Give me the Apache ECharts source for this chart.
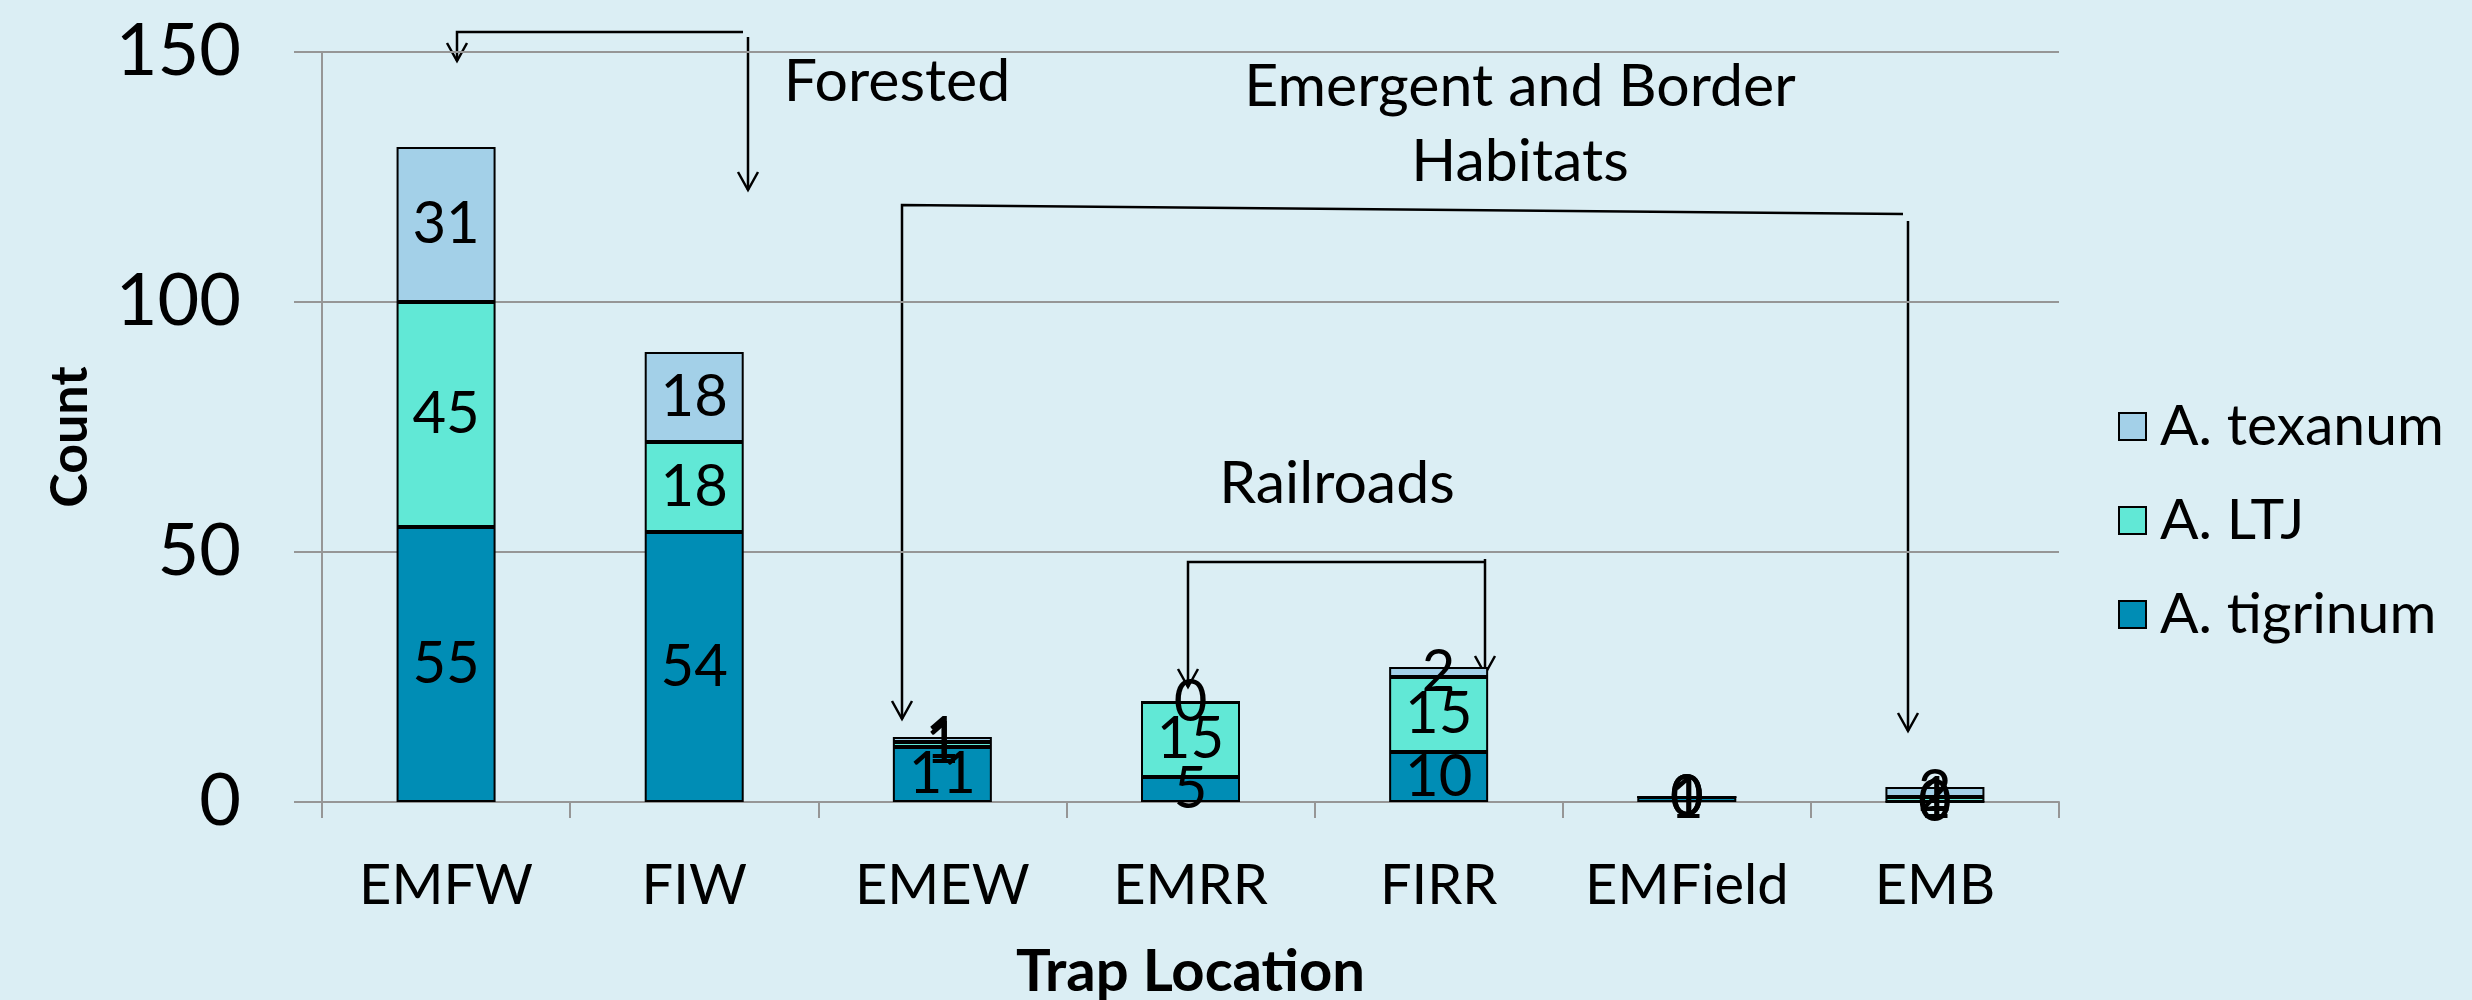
<!DOCTYPE html>
<html>
<head>
<meta charset="utf-8">
<script src="https://cdn.jsdelivr.net/npm/echarts@6/dist/echarts.min.js"></script>
<style>
html,body{margin:0;padding:0;background:#DBEEF4;}
#chart{width:2472px;height:1000px;}
</style>
</head>
<body>
<div id="chart"></div>
<script>
const categories = ['EMFW', 'FIW', 'EMEW', 'EMRR', 'FIRR', 'EMField', 'EMB'];
const tigrinum = [55, 54, 11, 5, 10, 1, 0];
const ltj = [45, 18, 1, 15, 15, 0, 1];
const texanum = [31, 18, 1, 0, 2, 0, 2];
const yTicks = [0, 50, 100, 150];

const FONT = 'Lato, "Open Sans", sans-serif';
const chart = echarts.init(document.getElementById('chart'), null, {renderer: 'canvas'});

function seriesOf(name, data, color) {
  return {
    name: name, type: 'bar', stack: 'total', data: data, barWidth: 99,
    itemStyle: {color: color, borderColor: '#000', borderWidth: 2},
    label: {show: true, position: 'inside', color: '#000', fontFamily: FONT, fontSize: 58},
    emphasis: {disabled: true}
  };
}

function arrowPath(pts) {
  const last = pts[pts.length - 1];
  return [
    {type: 'polyline', shape: {points: pts}, style: {stroke: '#000', lineWidth: 2.5, fill: null}, silent: true},
    {type: 'polyline', shape: {points: [[last[0] - 10, last[1] - 18], [last[0], last[1]], [last[0] + 10, last[1] - 18]]},
     style: {stroke: '#000', lineWidth: 2.5, fill: null}, silent: true}
  ];
}

function txt(text, x, y) {
  return {type: 'text', x: x, y: y, silent: true,
    style: {text: text, fill: '#000', font: '59px ' + FONT, textAlign: 'center', textVerticalAlign: 'middle'}};
}

const graphics = [].concat(
  arrowPath([[743, 32], [457, 32], [457, 61]]),
  arrowPath([[748, 37], [748, 190]]),
  arrowPath([[1903, 214], [902, 205], [902, 719]]),
  arrowPath([[1908, 221], [1908, 731]]),
  arrowPath([[1485, 562], [1188, 562], [1188, 687]]),
  arrowPath([[1485, 559], [1485, 674]]),
  [txt('Forested', 897, 82), txt('Emergent and Border', 1520, 87), txt('Habitats', 1520, 162), txt('Railroads', 1337, 484)]
);

chart.setOption({
  backgroundColor: '#DBEEF4',
  animation: false,
  grid: {left: 322, right: 413, top: 52, bottom: 198, containLabel: false, outerBoundsMode: 'none'},
  legend: {
    orient: 'vertical', left: 2113, top: 393,
    data: ['A. texanum', 'A. LTJ', 'A. tigrinum'],
    icon: 'rect', itemWidth: 27, itemHeight: 27, itemGap: 37,
    textStyle: {color: '#000', fontFamily: FONT, fontSize: 57, lineHeight: 56, padding: [0, 0, 0, 9]},
    selectedMode: false
  },
  xAxis: {
    type: 'category', data: categories,
    name: 'Trap Location', nameLocation: 'middle', nameGap: 141,
    nameTextStyle: {color: '#000', fontFamily: FONT, fontSize: 58, fontWeight: 'bold'},
    axisLine: {show: true, lineStyle: {color: '#969696', width: 2}},
    axisTick: {show: true, length: 16, lineStyle: {color: '#969696', width: 2}},
    axisLabel: {color: '#000', fontFamily: FONT, fontSize: 56, margin: 56, interval: 0}
  },
  yAxis: {
    type: 'value', min: 0, max: 150, interval: 50,
    name: 'Count', nameLocation: 'middle', nameGap: 226, nameRotate: 90,
    nameTextStyle: {color: '#000', fontFamily: FONT, fontSize: 52, fontWeight: 'bold', padding: [0, 20, 0, 0]},
    axisLine: {show: true, lineStyle: {color: '#969696', width: 2}},
    axisTick: {show: true, length: 28, lineStyle: {color: '#969696', width: 2}},
    axisLabel: {color: '#000', fontFamily: FONT, fontSize: 72, margin: 81,
      formatter: function (v) { return yTicks.indexOf(v) >= 0 ? String(v) : ''; }},
    splitLine: {show: true, lineStyle: {color: '#969696', width: 2}}
  },
  series: [
    seriesOf('A. tigrinum', tigrinum, '#008DB5'),
    seriesOf('A. LTJ', ltj, '#61E8D6'),
    seriesOf('A. texanum', texanum, '#A3D0E8')
  ],
  graphic: graphics
});
</script>
</body>
</html>
